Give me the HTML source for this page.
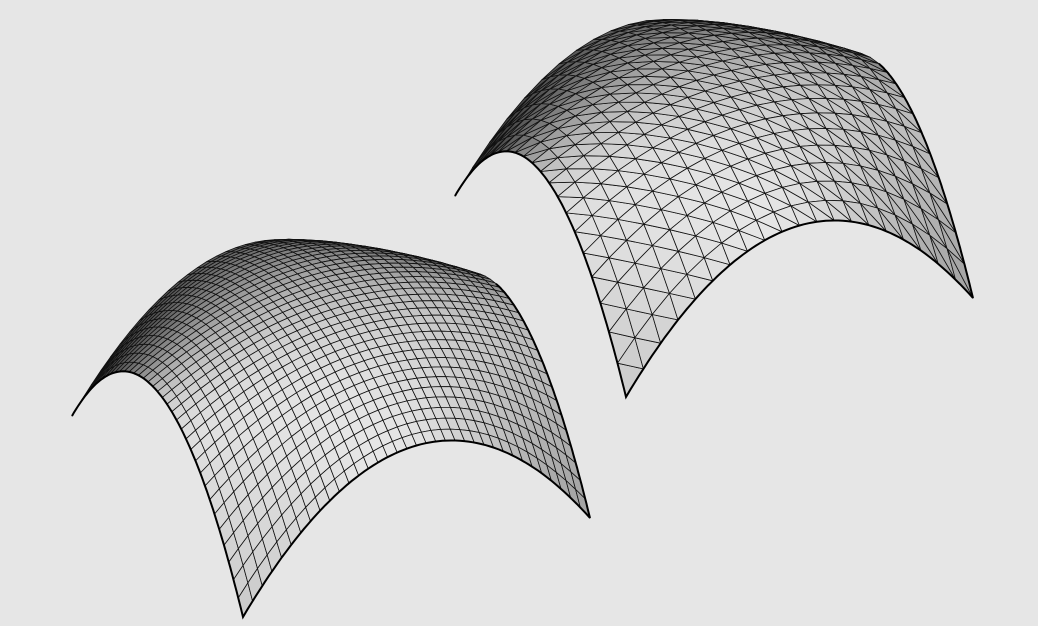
<!DOCTYPE html>
<html><head><meta charset="utf-8">
<style>
html,body{margin:0;padding:0;background:#e6e6e6;}
svg{display:block;}
</style></head>
<body>
<svg id="chart" width="1038" height="626" viewBox="0 0 1038 626" xmlns="http://www.w3.org/2000/svg">
<rect width="1038" height="626" fill="#e6e6e6"/>
<g id="left"></g>
<g id="right"></g>
</svg>
<script>
// surface parameters
const surfaceOrigins = [[331,467],[714,247]];
const surfaceDivisions = [36,20];
const surfaceKinds = ['quad','tri'];
const archHeights = [122,125,75]; // H (along u), K (along v), center reduction
const Ex=[173.5,-49.5], Ey=[-85.5,-100.5];
const NS='http://www.w3.org/2000/svg';
function Z(u,v){return archHeights[0]*(1-u*u)+archHeights[1]*(1-v*v)-archHeights[2]*(1-u*u)*(1-v*v);}
function P(O,u,v){
  return [O[0]+u*Ex[0]+v*Ey[0], O[1]+u*Ex[1]+v*Ey[1]-Z(u,v)];
}
function shade(u,v){
  const e=0.001;
  const du=(Z(u+e,v)-Z(u-e,v))/(2*e)/180, dv=(Z(u,v+e)-Z(u,v-e))/(2*e)/130;
  let n=[-du,-dv,1];
  const l=Math.hypot(...n); n=n.map(a=>a/l);
  let L=[-0.2,-0.6,0.78]; const ll=Math.hypot(...L); L=L.map(a=>a/ll);
  const d=Math.max(0,n[0]*L[0]+n[1]*L[1]+n[2]*L[2]);
  const b=Math.round(50+180*Math.pow(d,1.1));
  return `rgb(${b},${b},${b})`;
}
function draw(idx,gid){
  const g=document.getElementById(gid), O=surfaceOrigins[idx], N=surfaceDivisions[idx];
  for(let j=N-1;j>=0;j--){
    for(let i=0;i<N;i++){
      const u0=-1+2*i/N,u1=-1+2*(i+1)/N,v0=-1+2*j/N,v1=-1+2*(j+1)/N;
      const a=[u0,v0],b=[u1,v0],c=[u1,v1],d=[u0,v1];
      const tris = surfaceKinds[idx]==='quad' ? [[a,b,c,d]] : [[a,b,d],[b,c,d]];
      for(const t of tris){
        const cu=t.reduce((s,p)=>s+p[0],0)/t.length, cv=t.reduce((s,p)=>s+p[1],0)/t.length;
        const pts=t.map(p=>P(O,p[0],p[1]).map(x=>x.toFixed(1)).join(',')).join(' ');
        const el=document.createElementNS(NS,'polygon');
        el.setAttribute('points',pts);
        el.setAttribute('fill',shade(cu,cv));
        el.setAttribute('stroke','#111');
        el.setAttribute('stroke-width','0.8');
        el.setAttribute('stroke-linejoin','round');
        
        
        g.appendChild(el);
      }
    }
  }
  const pts=[];
  const M=80;
  for(let k=0;k<=M;k++) pts.push(P(O,1,0.1-1.1*k/M));
  for(let k=0;k<=M;k++) pts.push(P(O,1-2*k/M,-1));
  for(let k=0;k<=M;k++) pts.push(P(O,-1,-1+2*k/M));
  const pl=document.createElementNS(NS,'polyline');
  pl.setAttribute('points',pts.map(p=>p[0].toFixed(1)+','+p[1].toFixed(1)).join(' '));
  pl.setAttribute('fill','none');
  pl.setAttribute('stroke','#000');
  pl.setAttribute('stroke-width','2');
  
  
  g.appendChild(pl);
}
draw(0,'left');
draw(1,'right');
</script>
</body></html>
